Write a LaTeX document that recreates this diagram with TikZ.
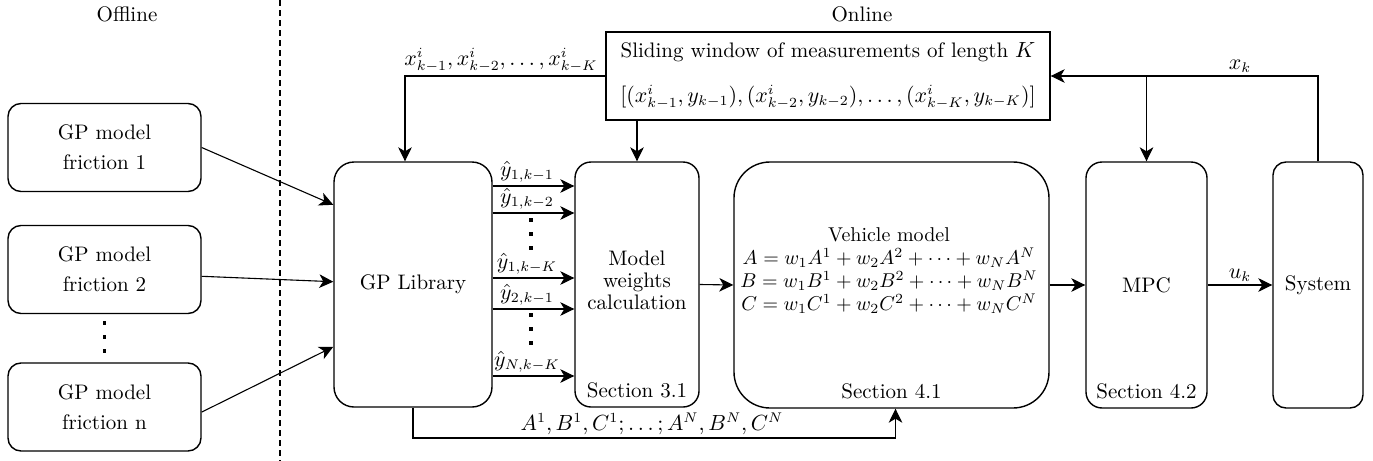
\documentclass[tikz,border=0pt]{standalone}
\usepackage{amsmath,amssymb}
\usepackage{tikz}
\usetikzlibrary{positioning,calc,arrows.meta}

\begin{document}
\begin{tikzpicture}[x=0.5pt, y=-0.5pt, font=\fontsize{10.5}{12.6}\selectfont,
    block/.style={draw, line width=0.7pt, align=center},
    arr/.style={-{Stealth[length=7pt,width=6.8pt,inset=2pt]}, line width=0.55pt},
    lbl/.style={inner sep=1.5pt},
    dotsq/.style={fill, inner sep=0pt, minimum width=1.6pt, minimum height=1.9pt}]
    \useasboundingbox (0,0) rectangle (1373,461);

    % Offline / Online split
    \node (offl) at (127,14) {Offline};
    \node (onl) at (862,14) {Online};
    \draw[dash pattern=on 3pt off 2pt, line width=0.6pt] (280,0) -- (280,461);

    % GP models (offline)
    \node[block, rounded corners=6.5pt, minimum width=96.5pt, minimum height=44pt] (f1) at (104.5,147.5) {GP model\\[2.4pt]friction 1};
    \node[block, rounded corners=6.5pt, minimum width=96.5pt, minimum height=44pt] (f2) at (104.5,269.5) {GP model\\[2.4pt]friction 2};
    \node[block, rounded corners=6.5pt, minimum width=96.5pt, minimum height=44pt] (fn) at (104.5,407) {GP model\\[2.4pt]friction n};
    \foreach \i in {0,1,2}
        \node[dotsq] (fd\i) at (104.5,323+14*\i) {};

    % Online blocks
    \node[block, rounded corners=10pt, minimum width=79pt, minimum height=122.5pt] (gp) at (413,284.5) {GP Library};
    \node[block, rounded corners=8pt, minimum width=62pt, minimum height=122.5pt] (mw) at (637,284.5) {};
    \node[align=center] (mwtxt) at (637,280) {Model\\[-1.6pt]weights\\[-1.6pt]calculation};
    \node[block, rounded corners=18pt, minimum width=157.5pt, minimum height=123pt] (vm) at (891.5,285) {};
    \node[align=center, font=\fontsize{10}{12}\selectfont] (vmeq) at (889,271) {Vehicle model\\[-0.5pt]
        $A = w_1A^1 + w_2A^2 + \cdots + w_NA^N$\\[-0.5pt]
        $B = w_1B^1 + w_2B^2 + \cdots + w_NB^N$\\[-0.5pt]
        $C = w_1C^1 + w_2C^2 + \cdots + w_NC^N$};
    \node[block, rounded corners=8pt, minimum width=60.5pt, minimum height=123pt] (mpc) at (1146.5,285) {MPC};
    \node[block, rounded corners=6.5pt, minimum width=45pt, minimum height=123pt] (sys) at (1318,285) {System};

    % section tags
    \node[anchor=south] (sec31) at ([yshift=1.5pt]mw.south) {Section 3.1};
    \node[anchor=south] (sec41) at ([yshift=1.5pt]vm.south) {Section 4.1};
    \node[anchor=south] (sec42) at ([yshift=1.5pt]mpc.south) {Section 4.2};

    % measurement window
    \node[draw, line width=0.7pt, align=center, minimum width=222pt, minimum height=44pt] (sw) at (828,76)
        {Sliding window of measurements of length $K$\\[9.5pt]
        $[(x^i_{k-1},y_{k-1}),(x^i_{k-2},y_{k-2}),\dots,(x^i_{k-K},y_{k-K})]$};

    % GP models into library
    \draw[arr] (f1.east) -- (gp.135);
    \draw[arr] (f2.356) -- (gp.178);
    \draw[arr] (fn.357) -- (gp.218);

    % predictions into weights block
    \foreach \nm/\yy/\txt in {y1/186/{\hat y_{1,k-1}}, y2/213/{\hat y_{1,k-2}}, y3/278/{\hat y_{1,k-K}},
                              y4/309/{\hat y_{2,k-1}}, y5/376/{\hat y_{N,k-K}}} {
        \node[lbl, anchor=south] (\nm) at (527,\yy) {$\txt$};
        \draw[arr] (gp.east |- \nm.south) -- (mw.west |- \nm.south);
    }
    \foreach \i in {0,1,2} {
        \node[dotsq] (ya\i) at (531,220+14*\i) {};
        \node[dotsq] (yb\i) at (531,315+14*\i) {};
    }

    % window feeds
    \node[lbl, anchor=south] (xwin) at (501,76) {$x^i_{k-1},x^i_{k-2},\dots,x^i_{k-K}$};
    \draw[arr] (sw.west) -| ([xshift=-4pt]gp.north);
    \draw[arr] (sw.south -| mw.north) -- (mw.north);

    % state feedback
    \node[lbl, anchor=south] (xk) at (1240,76) {$x_k$};
    \draw[arr] (sys.north) |- (sw.east);
    \draw[arr] (sw.east -| mpc.north) -- (mpc.north);

    % main chain
    \draw[arr] (mw.east) -- (vm.west);
    \draw[arr] (vm.east) -- (mpc.west);
    \draw[arr] (mpc.east) -- node[lbl, above] (uk) {$u_k$} (sys.west);

    % model matrices
    \node[lbl, anchor=south] (abc) at (652,438) {$A^1,B^1,C^1;\dots;A^N,B^N,C^N$};
    \draw[arr] (gp.south) |- (abc.south) -| ([xshift=2pt]vm.south);
\end{tikzpicture}
\end{document}
